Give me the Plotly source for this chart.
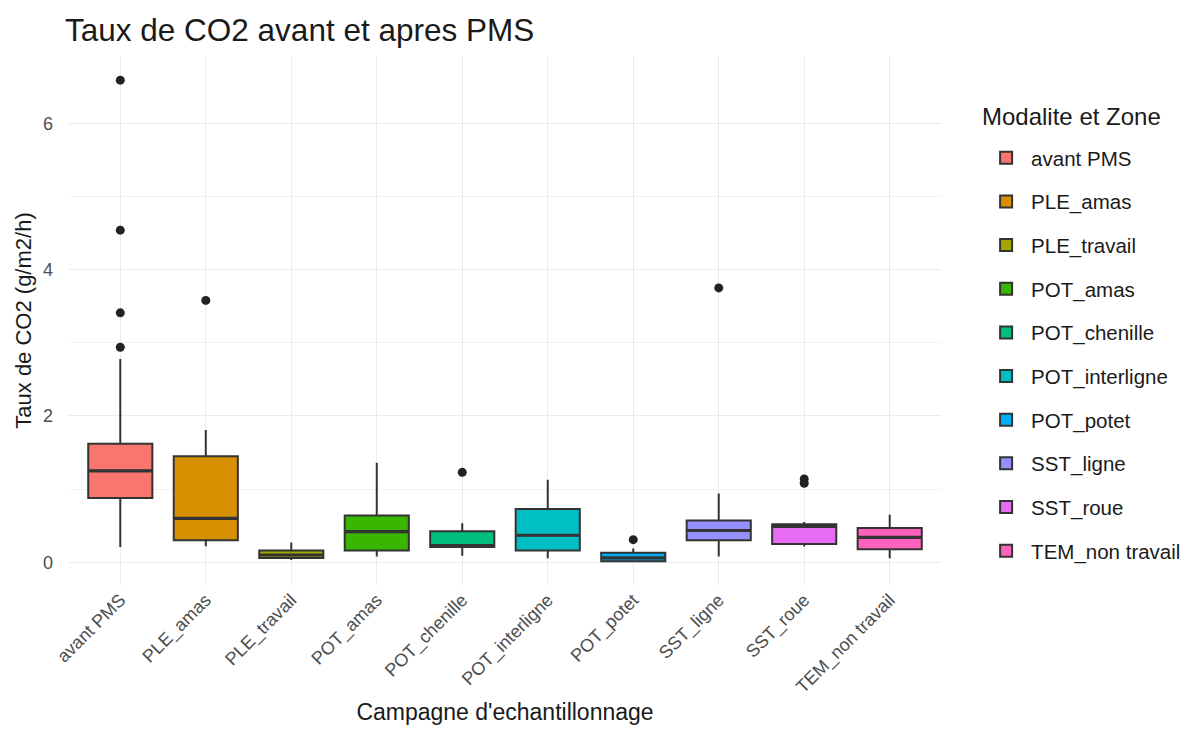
import plotly.graph_objects as go

categories = ["avant PMS", "PLE_amas", "PLE_travail", "POT_amas", "POT_chenille",
              "POT_interligne", "POT_potet", "SST_ligne", "SST_roue", "TEM_non travail"]
colors = ["#F8766D", "#D89000", "#A3A500", "#39B600", "#00BF7D",
          "#00BFC4", "#00B0F6", "#9590FF", "#E76BF3", "#FF62BC"]
lower_whisker = [0.21, 0.22, 0.03, 0.08, 0.09, 0.055, 0.01, 0.08, 0.215, 0.055]
q1 = [0.88, 0.30, 0.06, 0.16, 0.21, 0.16, 0.015, 0.30, 0.25, 0.18]
median = [1.25, 0.60, 0.10, 0.42, 0.23, 0.37, 0.06, 0.435, 0.49, 0.34]
q3 = [1.62, 1.45, 0.16, 0.64, 0.425, 0.73, 0.13, 0.57, 0.52, 0.47]
upper_whisker = [2.78, 1.81, 0.27, 1.36, 0.535, 1.13, 0.19, 0.94, 0.55, 0.65]
outlier_cat = ["avant PMS", "avant PMS", "avant PMS", "avant PMS", "PLE_amas",
               "POT_chenille", "POT_potet", "SST_ligne", "SST_roue", "SST_roue"]
outlier_val = [6.59, 4.54, 3.41, 2.94, 3.58, 1.23, 0.31, 3.75, 1.14, 1.08]

FONT = "Liberation Sans, Arial, sans-serif"
LINE = "#333333"

fig = go.Figure()
for i, cat in enumerate(categories):
    fig.add_trace(go.Box(
        x=[cat], q1=[q1[i]], median=[median[i]], q3=[q3[i]],
        lowerfence=[lower_whisker[i]], upperfence=[upper_whisker[i]],
        name=cat, legendgroup=cat, fillcolor=colors[i],
        line=dict(color=LINE, width=2), whiskerwidth=0, width=0.75,
        boxpoints=False, hoverinfo="skip",
    ))

# thicker median lines (ggplot fatten)
fig.add_trace(go.Scatter(
    x=categories, y=median, mode="markers", showlegend=False, hoverinfo="skip",
    marker=dict(symbol="line-ew", size=45, line=dict(color=LINE, width=3.2)),
))

fig.add_trace(go.Scatter(
    x=outlier_cat, y=outlier_val, mode="markers", showlegend=False,
    marker=dict(color="#222222", size=9), hoverinfo="skip",
))

fig.update_layout(
    width=1190, height=751,
    paper_bgcolor="white", plot_bgcolor="white",
    margin=dict(l=61, r=255, t=48, b=174),
    boxmode="overlay",
    font=dict(family=FONT, color="#1a1a1a"),
    title=dict(text="Taux de CO2 avant et apres PMS", x=57 / 1190, xref="container",
               xanchor="left", y=1 - 22 / 751, yref="container", yanchor="middle",
               font=dict(size=31.5, color="#1a1a1a")),
    legend=dict(font=dict(size=20.5, color="#1a1a1a"), x=1.046, xanchor="left",
                y=0.845, yanchor="top", tracegroupgap=14.0, itemwidth=40,
                bgcolor="rgba(0,0,0,0)"),
    showlegend=True,
    annotations=[dict(text="Modalite et Zone", xref="paper", yref="paper",
                      x=1.0446, y=0.8847, xanchor="left", yanchor="middle",
                      showarrow=False, font=dict(size=24, color="#1a1a1a"))],
)
fig.update_xaxes(
    categoryorder="array", categoryarray=categories,
    range=[-0.6, 9.6], tickangle=-45, showgrid=True, gridcolor="#EBEBEB", gridwidth=1.2,
    zeroline=False, showline=False, ticks="",
    tickfont=dict(size=18, color="#4D4D4D"),
    title=dict(text="Campagne d'echantillonnage", font=dict(size=23, color="#1a1a1a"), standoff=7),
)
fig.update_yaxes(
    range=[-0.31, 6.92], tickvals=[0, 2, 4, 6], showgrid=True, gridcolor="#EBEBEB",
    gridwidth=1.4, zeroline=False, showline=False, ticks="", ticklabelstandoff=15,
    minor=dict(tickvals=[1, 3, 5], showgrid=True, gridcolor="#F2F2F2", gridwidth=1),
    tickfont=dict(size=18, color="#4D4D4D"),
    title=dict(text="Taux de CO2 (g/m2/h)", font=dict(size=22, color="#1a1a1a"), standoff=5),
)

fig.write_html("out.html")
